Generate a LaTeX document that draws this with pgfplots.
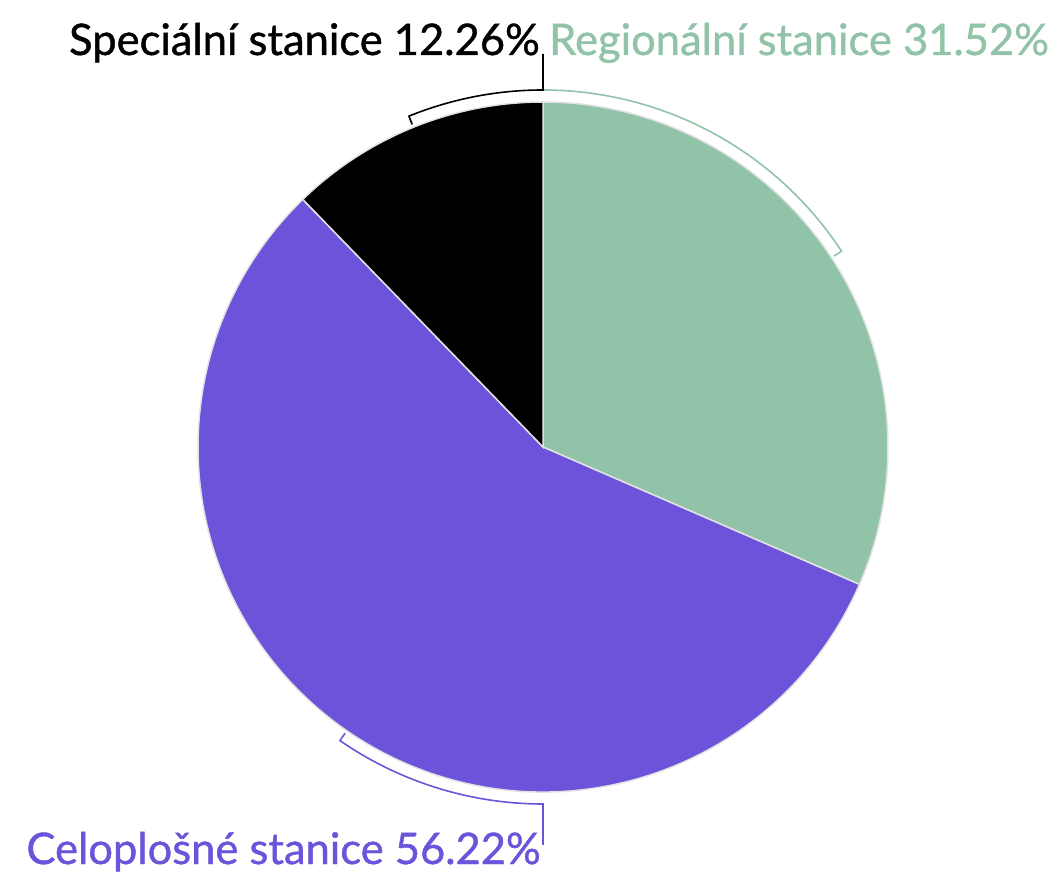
\documentclass[border=0pt]{standalone}
\usepackage{pgfplots}
\usepackage{pgfplotstable}
\pgfplotsset{compat=1.18}
\usepackage{fontspec}
\setmainfont{Lato}
\newfontfamily\labfont{Lato}[FakeBold=1.0]
\definecolor{cgreen}{HTML}{90C3A8}
\definecolor{cpurple}{HTML}{6C53D9}
\definecolor{csep}{HTML}{E2E2E2}
\pgfplotstableread{
name value
Regionalni 31.52
Celoplosne 56.22
Specialni 12.26
}\piedata
\begin{document}%
\begin{tikzpicture}
\pgfplotstablegetelem{0}{value}\of\piedata \let\vA\pgfplotsretval
\pgfplotstablegetelem{1}{value}\of\piedata \let\vB\pgfplotsretval
\pgfplotstablegetelem{2}{value}\of\piedata \let\vC\pgfplotsretval
\pgfmathsetmacro{\aA}{90}
\pgfmathsetmacro{\aB}{\aA-3.6*\vA}
\pgfmathsetmacro{\aC}{\aB-3.6*\vB}
\pgfmathsetmacro{\aD}{\aC-3.6*\vC}
\pgfmathsetmacro{\mA}{(\aA+\aB)/2}
\pgfmathsetmacro{\mB}{(\aB+\aC)/2}
\pgfmathsetmacro{\mC}{(\aC+\aD)/2+360}
\begin{axis}[
  width=1053bp, height=874bp, scale only axis,
  xmin=0, xmax=1053, ymin=0, ymax=874,
  enlargelimits=false, hide axis, clip=false,
]
\path (axis cs:0,0) rectangle (axis cs:1053,874);
% slices
\filldraw[fill=cgreen, draw=csep, line width=1.5bp]
  (axis cs:543,427) -- ++(\aA:345bp) arc[start angle=\aA, end angle=\aB, radius=345bp] -- cycle;
\filldraw[fill=cpurple, draw=csep, line width=1.5bp]
  (axis cs:543,427) -- ++(\aB:345bp) arc[start angle=\aB, end angle=\aC, radius=345bp] -- cycle;
\filldraw[fill=black, draw=csep, line width=1.5bp]
  (axis cs:543,427) -- ++(\aC:345bp) arc[start angle=\aC, end angle=\aD, radius=345bp] -- cycle;
% brackets
\draw[cgreen, line width=1.6bp]
  (axis cs:543,784) arc[start angle=90, end angle=\mA, radius=357bp] -- ++(\mA+180:9bp);
\draw[cpurple, line width=1.6bp]
  (axis cs:543,29) -- (axis cs:543,70) arc[start angle=-90, end angle=\mB, radius=357bp] -- ++(\mB+180:9bp);
\draw[black, line width=1.6bp]
  (axis cs:543,820) -- (axis cs:543,784) arc[start angle=90, end angle=\mC, radius=357bp] -- ++(\mC+180:9bp);
% labels
\node[anchor=base east, inner sep=0pt, text=black, font=\labfont\fontsize{43.5bp}{50bp}\selectfont] at (axis cs:540,819) {Speciální stanice 12.26\%};
\node[anchor=base west, inner sep=0pt, text=cgreen, font=\labfont\fontsize{43.5bp}{50bp}\selectfont] at (axis cs:549,819) {Regionální stanice 31.52\%};
\node[anchor=base east, inner sep=0pt, text=cpurple, font=\labfont\fontsize{43.5bp}{50bp}\selectfont] at (axis cs:541,10) {Celoplošné stanice 56.22\%};
\end{axis}
\end{tikzpicture}%
\end{document}
